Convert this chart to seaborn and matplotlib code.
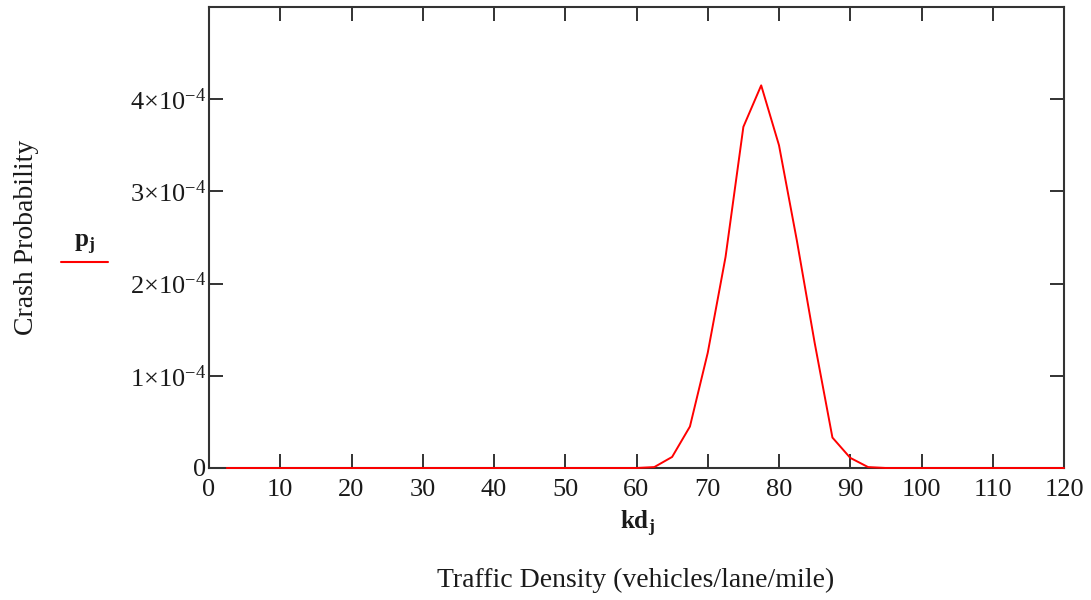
import numpy as np
import pandas as pd
import matplotlib
matplotlib.use("Agg")
import matplotlib.pyplot as plt
from matplotlib.lines import Line2D
from matplotlib.ticker import FuncFormatter, MultipleLocator
import seaborn as sns

sns.set_theme(style="ticks")
plt.rcParams['font.family'] = ['Liberation Serif', 'DejaVu Serif']
plt.rcParams['mathtext.fontset'] = 'custom'
plt.rcParams['mathtext.rm'] = 'Liberation Serif'
plt.rcParams['mathtext.it'] = 'Liberation Serif:italic'
plt.rcParams['mathtext.bf'] = 'Liberation Serif:bold'

# traffic density kd_j, step 2.5 veh/lane/mile
kd = np.arange(1, 49) * 2.5
# crash probability (units of 1e-4), zero outside the bump
bump_kd = [62.5, 65.0, 67.5, 70.0, 72.5, 75.0, 77.5, 80.0, 82.5, 85.0, 87.5, 90.0, 92.5]
bump_p = [0.01, 0.12, 0.45, 1.25, 2.29, 3.70, 4.15, 3.50, 2.47, 1.36, 0.33, 0.11, 0.01]

p = np.zeros(len(kd))
for k, v in zip(bump_kd, bump_p):
    p[np.isclose(kd, k)] = v * 1e-4

data = pd.DataFrame({'kd': kd, 'p': p})

fig = plt.figure(figsize=(10.91, 6), dpi=100)
ax = fig.add_axes([209 / 1091, 1 - 468 / 600, (1064 - 209) / 1091, (468 - 7) / 600])

sns.lineplot(data=data, x='kd', y='p', color='#ff0000', linewidth=1.4, ax=ax,
             zorder=3, clip_on=False)

ax.set_xlim(0, 120)
ax.set_ylim(0, 5e-4)
ax.xaxis.set_major_locator(MultipleLocator(10))
ax.yaxis.set_major_locator(MultipleLocator(1e-4))


def yfmt(v, pos):
    n = int(round(v * 1e4))
    if n == 0:
        return '0'
    if n >= 5:
        return ''
    return r'$%d{\times}10^{-4}$' % n


ax.yaxis.set_major_formatter(FuncFormatter(yfmt))
ax.tick_params(direction='in', length=10, width=1.3, color='#222222',
               top=True, right=True, labelsize=19, labelcolor='#1a1a1a')
ax.tick_params(axis='x', pad=8)
ax.tick_params(axis='y', pad=2)
for s in ax.spines.values():
    s.set_linewidth(1.5)
    s.set_color('#333333')
    s.set_visible(True)
ax.set_xlabel('')
ax.set_ylabel('')

fig.text(637 / 1091, 1 - 524 / 600, r'$\mathbf{kd_j}$', ha='center', va='center',
         fontsize=18, color='#1a1a1a')
fig.text(636 / 1091, 1 - 580 / 600, 'Traffic Density (vehicles/lane/mile)',
         ha='center', va='center', fontsize=20, color='#1a1a1a')
fig.text(27 / 1091, 1 - 237 / 600, 'Crash Probability', rotation=90,
         ha='center', va='center', fontsize=20, color='#1a1a1a')
fig.text(84 / 1091, 1 - 245 / 600, r'$\mathbf{p_j}$', ha='center', va='center',
         fontsize=18, color='#1a1a1a')
fig.add_artist(Line2D([61 / 1091, 108 / 1091], [1 - 262 / 600, 1 - 262 / 600],
                      color='#ff0000', linewidth=1.5, transform=fig.transFigure))

fig.savefig('out.png', dpi=100)
